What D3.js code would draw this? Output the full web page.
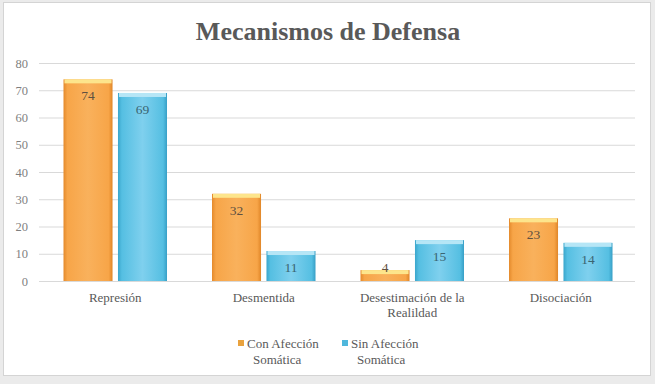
<!DOCTYPE html>
<html>
<head>
<meta charset="utf-8">
<script src="https://cdn.jsdelivr.net/npm/d3@7"></script>
<style>
  body { margin: 0; background: #ebebeb; }
  svg { display: block; }
</style>
</head>
<body>
<div id="chartVis"></div>
<script>
const FRAME_HEIGHT = 384;
const FRAME_WIDTH = 655;
const MARGINS = {left: 41, right: 20, top: 63, bottom: 103};

const VIS_HEIGHT = FRAME_HEIGHT - MARGINS.top - MARGINS.bottom;
const VIS_WIDTH = FRAME_WIDTH - MARGINS.left - MARGINS.right;

//data
const CATEGORIES = ["Represión", "Desmentida", "Desestimación de la Realildad", "Disociación"];
const CON_AFECCION = [74, 32, 4, 23];
const SIN_AFECCION = [69, 11, 15, 14];
const SERIES_NAMES = ["Con Afección Somática", "Sin Afección Somática"];
const Y_TICKS = [0, 10, 20, 30, 40, 50, 60, 70, 80];

const FONT = "'Liberation Serif', 'DejaVu Serif', serif";

//frame for the chart
const FRAME = d3.select("#chartVis")
  .append("svg")
    .attr("height", FRAME_HEIGHT)
    .attr("width", FRAME_WIDTH);

//gray page below, white chart area with a light border
FRAME.append("rect")
  .attr("x", 0).attr("y", 0)
  .attr("width", FRAME_WIDTH).attr("height", FRAME_HEIGHT)
  .attr("fill", "#ebebeb");
FRAME.append("rect")
  .attr("x", 3.5).attr("y", 2.5)
  .attr("width", 647).attr("height", 373)
  .attr("fill", "#ffffff")
  .attr("stroke", "#d4d4d4");

//gradients for the bars
const DEFS = FRAME.append("defs");
function addGradient(id, stops) {
  let g = DEFS.append("linearGradient")
    .attr("id", id)
    .attr("x1", "0").attr("y1", "0").attr("x2", "1").attr("y2", "0");
  stops.forEach(s => {
    g.append("stop").attr("offset", s[0]).attr("stop-color", s[1]);
  });
}
addGradient("gradOrange", [[0, "#e48a2c"], [0.08, "#f7a548"], [0.5, "#f9b15c"], [0.92, "#f7a548"], [1, "#e08628"]]);
addGradient("gradBlue", [[0, "#3aa6cc"], [0.08, "#55bfe2"], [0.5, "#7fd0ee"], [0.92, "#55bfe2"], [1, "#379fc6"]]);

const SERIES = [
  {name: SERIES_NAMES[0], values: CON_AFECCION, fill: "url(#gradOrange)", cap: "#fde58c", swatch: "#e9a23e"},
  {name: SERIES_NAMES[1], values: SIN_AFECCION, fill: "url(#gradBlue)", cap: "#b6e6f6", swatch: "#4fb7dc"}
];

//scales
const X_SCALE = d3.scaleBand()
  .domain(CATEGORIES)
  .range([0, VIS_WIDTH])
  .paddingInner(0)
  .paddingOuter(0);

const X_INNER = d3.scaleBand()
  .domain([0, 1])
  .range([22.5, X_SCALE.bandwidth() - 22.5])
  .paddingInner(0.1);

const Y_SCALE = d3.scaleLinear()
  .domain([0, 80])
  .range([VIS_HEIGHT, 0]);

const VIS = FRAME.append("g")
  .attr("transform", "translate(" + MARGINS.left + "," + MARGINS.top + ")");

//gridlines
VIS.append("g")
  .call(d3.axisLeft(Y_SCALE).tickValues(Y_TICKS).tickSize(-(VIS_WIDTH + 2)).tickFormat(""))
  .call(g => g.select(".domain").remove())
  .call(g => g.selectAll("line").attr("stroke", "#d9d9d9").attr("transform", "translate(-2,0)"));

//y axis labels
VIS.append("g")
  .call(d3.axisLeft(Y_SCALE).tickValues(Y_TICKS).tickSize(0).tickPadding(13))
  .call(g => g.select(".domain").remove())
  .call(g => g.selectAll("text")
    .attr("font-family", FONT)
    .attr("font-size", "12.5px")
    .attr("fill", "#7f7f7f"));

//bars
SERIES.forEach((s, i) => {
  let grp = VIS.append("g");
  let items = CATEGORIES.map((c, j) => ({cat: c, value: s.values[j]}));

  grp.selectAll("rect.bar")
    .data(items)
    .enter()
    .append("rect")
      .attr("class", "bar")
      .attr("x", d => X_SCALE(d.cat) + X_INNER(i))
      .attr("y", d => Y_SCALE(d.value))
      .attr("width", X_INNER.bandwidth())
      .attr("height", d => VIS_HEIGHT - Y_SCALE(d.value))
      .attr("fill", s.fill);

  //light cap on top of each bar
  grp.selectAll("rect.cap")
    .data(items)
    .enter()
    .append("rect")
      .attr("class", "cap")
      .attr("x", d => X_SCALE(d.cat) + X_INNER(i) + 1)
      .attr("y", d => Y_SCALE(d.value))
      .attr("width", X_INNER.bandwidth() - 2)
      .attr("height", 4)
      .attr("fill", s.cap);

  //value labels
  grp.selectAll("text")
    .data(items)
    .enter()
    .append("text")
      .attr("x", d => X_SCALE(d.cat) + X_INNER(i) + X_INNER.bandwidth() / 2)
      .attr("y", d => Math.min(Y_SCALE(d.value) + 21, VIS_HEIGHT - 9))
      .attr("text-anchor", "middle")
      .attr("font-family", FONT)
      .attr("font-size", "13.5px")
      .attr("fill", i == 0 ? "#5f5040" : "#3a6572")
      .text(d => d.value);
});

//category labels, wrapped like the original
const LABEL_LINES = {"Desestimación de la Realildad": ["Desestimación de la", "Realildad"]};
CATEGORIES.forEach(c => {
  let lines = LABEL_LINES[c] || [c];
  let t = VIS.append("text")
    .attr("x", X_SCALE(c) + X_SCALE.bandwidth() / 2)
    .attr("y", VIS_HEIGHT + 21)
    .attr("text-anchor", "middle")
    .attr("font-family", FONT)
    .attr("font-size", "13px")
    .attr("fill", "#595959");
  lines.forEach((l, k) => {
    t.append("tspan")
      .attr("x", X_SCALE(c) + X_SCALE.bandwidth() / 2)
      .attr("dy", k == 0 ? 0 : 15)
      .text(l);
  });
});

//title
FRAME.append("text")
  .attr("x", 328)
  .attr("y", 40)
  .attr("text-anchor", "middle")
  .attr("font-family", FONT)
  .attr("font-weight", "bold")
  .attr("font-size", "26px")
  .attr("fill", "#595959")
  .text("Mecanismos de Defensa");

//legend
const LEGEND_X = [238, 342];
SERIES.forEach((s, i) => {
  let words = s.name.split(" ");
  FRAME.append("rect")
    .attr("x", LEGEND_X[i])
    .attr("y", 340)
    .attr("width", 6)
    .attr("height", 6)
    .attr("fill", s.swatch);
  let t = FRAME.append("text")
    .attr("x", LEGEND_X[i] + 9)
    .attr("y", 348)
    .attr("font-family", FONT)
    .attr("font-size", "13px")
    .attr("fill", "#595959");
  t.append("tspan").text(words[0] + " " + words[1]);
  t.append("tspan").attr("x", LEGEND_X[i] + 15).attr("dy", 16).text(words[2]);
});
</script>
</body>
</html>
